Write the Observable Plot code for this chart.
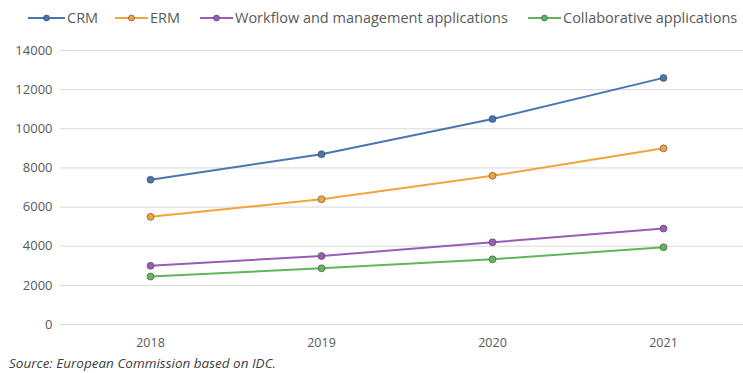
<!DOCTYPE html>
<html>
<head>
<meta charset="utf-8">
<script src="https://cdn.jsdelivr.net/npm/d3@7"></script>
<script src="https://cdn.jsdelivr.net/npm/@observablehq/plot@0.6"></script>
<style>
  html, body { margin: 0; padding: 0; background: #fff; }
  body { width: 743px; height: 373px; overflow: hidden; font-family: "Open Sans", "Liberation Sans", sans-serif; }
  #legend { height: 36px; position: relative; font-size: 14.5px; color: #595959; }
  .item { position: absolute; top: 8px; display: flex; align-items: center; white-space: nowrap; }
  .item svg { margin-right: 2px; }
  #caption { font-size: 13.5px; font-style: italic; color: #404040; padding-left: 9px; height: 19px; line-height: 18px; }
</style>
</head>
<body>
<div id="legend"></div>
<div id="chart"></div>
<div id="caption">Source: European Commission based on IDC.</div>
<script>
const years = ["2018", "2019", "2020", "2021"];
const seriesNames = ["CRM", "ERM", "Workflow and management applications", "Collaborative applications"];
const crm = [7400, 8700, 10500, 12600];
const erm = [5500, 6400, 7600, 9000];
const workflow = [3000, 3500, 4200, 4900];
const collaborative = [2450, 2870, 3330, 3950];
const yTicks = [0, 2000, 4000, 6000, 8000, 10000, 12000, 14000];
const colors = ["#4a76b0", "#f2a33a", "#9b5cb4", "#62b55c"];
const legendX = [28, 115, 200, 528];
const swatchW = [37, 33, 33, 33];

const allSeries = [crm, erm, workflow, collaborative];
const data = [];
seriesNames.forEach((name, i) => {
  years.forEach((yr, j) => data.push({ series: name, year: yr, value: allSeries[i][j] }));
});

const chart = Plot.plot({
  width: 743,
  height: 318,
  marginTop: 14,
  marginBottom: 30,
  marginLeft: 60,
  marginRight: 0,
  style: { fontFamily: "'Open Sans', 'Liberation Sans', sans-serif", fontSize: "12px", color: "#595959" },
  x: { type: "point", domain: years, padding: 0.5, range: [63, 750], label: null },
  y: { domain: [0, 14000], label: null },
  color: { domain: seriesNames, range: colors },
  marks: [
    Plot.ruleY(yTicks, { stroke: "#d9d9d9", strokeWidth: 1 }),
    Plot.axisX({ tickSize: 0, tickPadding: 14, fontSize: 12.5, fill: "#595959" }),
    Plot.axisY({ ticks: yTicks, tickFormat: d3.format("d"), tickSize: 0, tickPadding: 8, fontSize: 13, fill: "#595959" }),
    Plot.line(data, { x: "year", y: "value", z: "series", stroke: "series", strokeWidth: 2 }),
    Plot.dot(data, { x: "year", y: "value", fill: "series", stroke: "#33333380", strokeWidth: 1, r: 3.5 })
  ]
});
document.getElementById("chart").appendChild(chart);

const legend = document.getElementById("legend");
seriesNames.forEach((name, i) => {
  const item = document.createElement("div");
  item.className = "item";
  item.style.left = legendX[i] + "px";
  const w = swatchW[i];
  item.innerHTML = `<svg width="${w}" height="10"><line x1="0" y1="5" x2="${w}" y2="5" stroke="${colors[i]}" stroke-width="2"/><circle cx="${w / 2}" cy="5" r="3" fill="${colors[i]}" stroke="#33333380"/></svg><span>${name}</span>`;
  legend.appendChild(item);
});
</script>
</body>
</html>
